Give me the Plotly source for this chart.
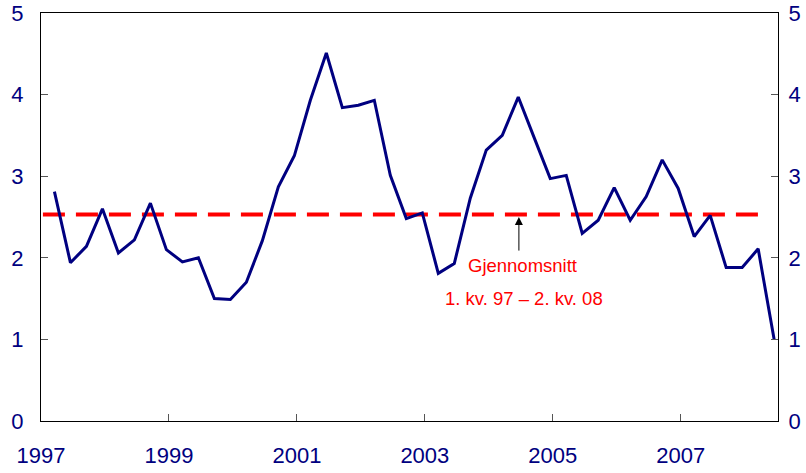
import plotly.graph_objects as go

# kvartalsvise verdier, 1. kv. 1997 - 2. kv. 2008
values = [
    2.81, 1.94, 2.14, 2.60, 2.06, 2.22, 2.67, 2.10,
    1.95, 2.00, 1.50, 1.49, 1.70, 2.21, 2.87, 3.25,
    3.93, 4.51, 3.84, 3.87, 3.93, 3.01, 2.48, 2.55,
    1.81, 1.93, 2.73, 3.32, 3.50, 3.97, 3.47, 2.97,
    3.01, 2.30, 2.46, 2.86, 2.46, 2.75, 3.20, 2.85,
    2.26, 2.52, 1.88, 1.88, 2.11, 1.00,
]
first_x = 1997.21
quarters = [first_x + 0.25 * i for i in range(len(values))]

average = 2.53
average_x = [1997.03, 2008.36]

year_ticks = [1997, 1999, 2001, 2003, 2005, 2007]
y_ticks = [0, 1, 2, 3, 4, 5]

navy = "#000080"
font = "Arial, Liberation Sans, sans-serif"

fig = go.Figure()
fig.add_trace(go.Scatter(
    x=average_x, y=[average, average], mode="lines",
    line=dict(color="#ff0000", width=4, dash="22px,11px"),
    showlegend=False, hoverinfo="skip"
))
fig.add_trace(go.Scatter(
    x=quarters, y=values, mode="lines",
    line=dict(color=navy, width=3),
    showlegend=False
))
# usynlig serie for høyre akse
fig.add_trace(go.Scatter(
    x=quarters, y=values, yaxis="y2", mode="lines",
    line=dict(width=0), opacity=0, showlegend=False, hoverinfo="skip"
))

fig.add_annotation(
    x=2004.47, y=2.50, ax=2004.47, ay=2.07, xref="x", yref="y",
    axref="x", ayref="y", text="", showarrow=True,
    arrowhead=2, arrowsize=1.6, arrowwidth=1, arrowcolor="black"
)
fig.add_annotation(
    x=2004.53, y=1.90, xref="x", yref="y", text="Gjennomsnitt",
    showarrow=False, font=dict(family=font, size=18.5, color="#ff0000")
)
fig.add_annotation(
    x=2004.55, y=1.50, xref="x", yref="y", text="1. kv. 97 – 2. kv. 08",
    showarrow=False, font=dict(family=font, size=18.5, color="#ff0000")
)

fig.update_layout(
    width=806, height=473,
    margin=dict(l=41, r=28, t=13, b=52),
    plot_bgcolor="white", paper_bgcolor="white",
    font=dict(family=font, size=22, color=navy),
    xaxis=dict(
        range=[1997, 2008.52], tickvals=year_ticks, automargin=False,
        ticks="inside", ticklen=7, tickcolor="#555",
        showline=True, linecolor="black", linewidth=1, mirror=True,
        showgrid=False, zeroline=False, ticklabelstandoff=15,
    ),
    yaxis=dict(
        range=[0, 5], tickvals=y_ticks, automargin=False,
        ticks="inside", ticklen=7, tickcolor="#555",
        showline=True, linecolor="black", linewidth=1,
        showgrid=False, zeroline=False, ticklabelstandoff=12,
    ),
    yaxis2=dict(
        range=[0, 5], tickvals=y_ticks, overlaying="y", side="right",
        automargin=False,
        ticks="inside", ticklen=7, tickcolor="#555",
        showline=True, linecolor="black", linewidth=1,
        showgrid=False, zeroline=False, ticklabelstandoff=5,
    ),
)

fig.write_html(
    "out.html",
    config={"displayModeBar": False},
    post_script="document.body.style.margin='0';",
)
